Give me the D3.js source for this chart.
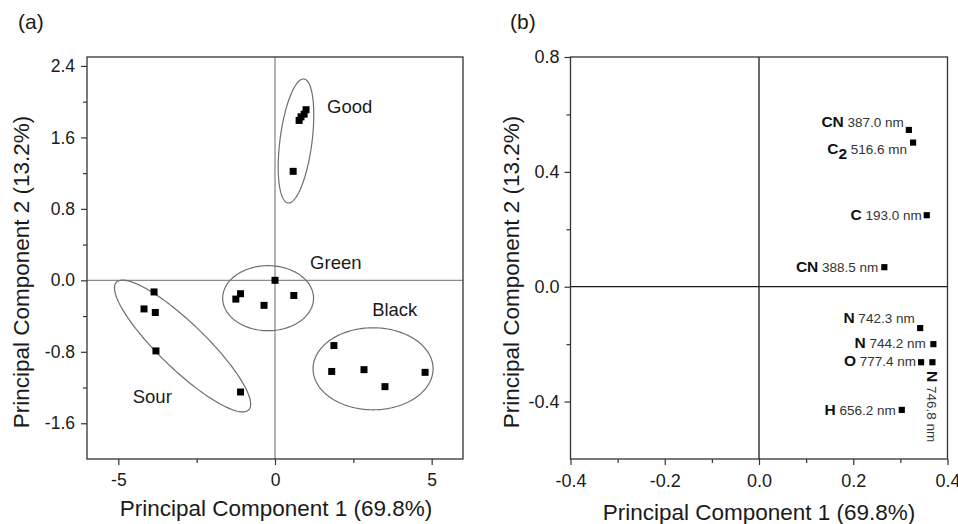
<!DOCTYPE html>
<html>
<head>
<meta charset="utf-8">
<script src="https://cdn.jsdelivr.net/npm/d3@7"></script>
<style>
  body { margin: 0; background: #fff; }
  svg { display: block; background: #fff; }
</style>
</head>
<body>
<div id="wrapper"></div>
<script>
// ---------- panel (a): PCA scores ----------
const scoreGroups = ["Good", "Green", "Sour", "Black"]
const scoreGroup = [0, 0, 0, 0, 0,  1, 1, 1, 1, 1,  2, 2, 2, 2, 2,  3, 3, 3, 3, 3]
const scorePC1 = [0.99, 0.93, 0.83, 0.77, 0.58,
                  0.00, 0.60, -0.35, -1.10, -1.25,
                  -3.86, -4.18, -3.82, -3.80, -1.10,
                  1.88, 1.81, 2.84, 3.51, 4.79]
const scorePC2 = [1.91, 1.86, 1.83, 1.79, 1.22,
                  0.00, -0.17, -0.28, -0.15, -0.21,
                  -0.13, -0.32, -0.36, -0.79, -1.25,
                  -0.73, -1.02, -1.00, -1.19, -1.03]

// confidence ellipses (data units): centre, and two semi-axis vectors
const ellipseCentre = [[0.67, 1.56], [-0.22, -0.20], [-2.95, -0.735], [3.13, -0.99]]
const ellipseAxisU  = [[0.255, 0.694], [1.45, 0], [2.113, -0.714], [1.915, 0]]
const ellipseAxisV  = [[0.507, -0.023], [0, 0.364], [0.508, 0.186], [0, 0.459]]
// where each group name sits (data units, text start / baseline)
const groupLabelAt = [[1.66, 1.87], [1.12, 0.13], [-4.54, -1.37], [3.10, -0.40]]

const scoreXTicks = [-5, 0, 5]
const scoreXMinor = [-2.5, 2.5]
const scoreYTicks = [2.4, 1.6, 0.8, 0.0, -0.8, -1.6]
const scoreYMinor = [2.0, 1.2, 0.4, -0.4, -1.2]

// ---------- panel (b): PCA loadings ----------
const loadingElement = ["CN", "C2", "C", "CN", "N", "N", "O", "N", "H"]
const loadingLine = ["387.0 nm", "516.6 mn", "193.0 nm", "388.5 nm",
                     "742.3 nm", "744.2 nm", "777.4 nm", "746.8 nm", "656.2 nm"]
const loadingPC1 = [0.318, 0.327, 0.356, 0.266, 0.342, 0.370, 0.344, 0.368, 0.303]
const loadingPC2 = [0.546, 0.502, 0.249, 0.068, -0.144, -0.200, -0.263, -0.263, -0.429]

const loadXTicks = [-0.4, -0.2, 0.0, 0.2, 0.4]
const loadXMinor = [-0.3, -0.1, 0.1, 0.3]
const loadYTicks = [0.8, 0.4, 0.0, -0.4]
const loadYMinor = [0.6, 0.2, -0.2]

const xTitle = "Principal Component 1 (69.8%)"
const yTitle = "Principal Component 2 (13.2%)"

function drawFigure() {
  const font = "'Liberation Sans', Arial, Helvetica, sans-serif"

  // plain hyphen for negatives, like the original figure
  const fmt = spec => d => d3.format(spec)(d).replace("\u2212", "-")

  const wrapper = d3.select("#wrapper")
    .append("svg")
      .attr("width", 958)
      .attr("height", 524)
      .style("font-family", font)

  // both panels share the same vertical extent
  const plotTop = 57
  const plotBottom = 459

  // axes + frame for one panel
  function drawAxes(xScale, yScale, t) {
    const g = wrapper.append("g")
    const [x0, x1] = xScale.range()

    const styleAxis = sel => {
      sel.attr("font-family", font).attr("font-size", t.fontSize)
      sel.select(".domain").remove()
      sel.selectAll("line").attr("stroke", "#333").attr("stroke-width", 1.2)
      sel.selectAll("text").attr("fill", "#1a1a1a")
    }

    g.append("g")
        .attr("transform", `translate(0,${plotBottom})`)
        .call(d3.axisBottom(xScale).tickValues(t.xMinor).tickSize(4).tickFormat(""))
        .call(styleAxis)
    g.append("g")
        .attr("transform", `translate(0,${plotBottom})`)
        .call(d3.axisBottom(xScale).tickValues(t.xMajor).tickSize(6)
          .tickPadding(9).tickFormat(t.xFormat))
        .call(styleAxis)
    g.append("g")
        .attr("transform", `translate(${x0},0)`)
        .call(d3.axisLeft(yScale).tickValues(t.yMinor).tickSize(4).tickFormat(""))
        .call(styleAxis)
    g.append("g")
        .attr("transform", `translate(${x0},0)`)
        .call(d3.axisLeft(yScale).tickValues(t.yMajor).tickSize(6)
          .tickPadding(t.yPad).tickFormat(fmt(".1f")))
        .call(styleAxis)

    g.append("rect")
        .attr("x", x0)
        .attr("y", plotTop)
        .attr("width", x1 - x0)
        .attr("height", plotBottom - plotTop)
        .attr("fill", "none")
        .attr("stroke", "#333")
        .attr("stroke-width", 1.3)
    return g
  }

  function drawTitles(cx, xBase, yX, tag, tagX) {
    wrapper.append("text")
        .attr("x", cx)
        .attr("y", xBase)
        .attr("text-anchor", "middle")
        .attr("font-size", 22.5)
        .attr("fill", "#1a1a1a")
        .text(xTitle)
    wrapper.append("text")
        .attr("transform", `translate(${yX},272) rotate(-90)`)
        .attr("text-anchor", "middle")
        .attr("font-size", 22.5)
        .attr("fill", "#1a1a1a")
        .text(yTitle)
    wrapper.append("text")
        .attr("x", tagX)
        .attr("y", 29)
        .attr("font-size", 21)
        .attr("fill", "#1a1a1a")
        .text(tag)
  }

  // ================= panel (a) =================
  const xA = d3.scaleLinear().domain([-6, 6]).range([87, 463])
  const yA = d3.scaleLinear().domain([-2.0, 2.5]).range([plotBottom, plotTop])

  // zero lines
  const zeroA = wrapper.append("g")
      .attr("stroke", "#8c8c8c")
      .attr("stroke-width", 1.3)
  zeroA.append("line")
      .attr("x1", xA(0)).attr("x2", xA(0))
      .attr("y1", plotTop).attr("y2", plotBottom)
  zeroA.append("line")
      .attr("x1", xA.range()[0]).attr("x2", xA.range()[1])
      .attr("y1", yA(0)).attr("y2", yA(0))

  drawAxes(xA, yA, {
    xMajor: scoreXTicks, xMinor: scoreXMinor,
    yMajor: scoreYTicks, yMinor: scoreYMinor,
    xFormat: fmt("d"), yPad: 6, fontSize: 17.5
  })

  // ellipses traced in data space then mapped through the scales
  const steps = d3.range(0, 2 * Math.PI + 0.001, Math.PI / 90)
  const ellipseLine = d3.line().curve(d3.curveLinearClosed)
  wrapper.append("g")
    .selectAll("path")
    .data(scoreGroups)
    .join("path")
      .attr("d", (d, i) => {
        const [cx, cy] = ellipseCentre[i]
        const [ux, uy] = ellipseAxisU[i]
        const [vx, vy] = ellipseAxisV[i]
        return ellipseLine(steps.map(t => [
          xA(cx + ux * Math.cos(t) + vx * Math.sin(t)),
          yA(cy + uy * Math.cos(t) + vy * Math.sin(t))
        ]))
      })
      .attr("fill", "none")
      .attr("stroke", "#6e6e6e")
      .attr("stroke-width", 1.2)

  wrapper.append("g")
    .selectAll("text")
    .data(scoreGroups)
    .join("text")
      .attr("x", (d, i) => xA(groupLabelAt[i][0]))
      .attr("y", (d, i) => yA(groupLabelAt[i][1]))
      .attr("font-size", 18.5)
      .attr("fill", "#1a1a1a")
      .text(d => d)

  const square = d3.symbol(d3.symbolSquare)
  wrapper.append("g")
    .selectAll("path")
    .data(scorePC1)
    .join("path")
      .attr("transform", (d, i) => `translate(${xA(d)},${yA(scorePC2[i])})`)
      .attr("d", square.size(49)())
      .attr("fill", "#000")

  drawTitles(276, 516, 29, "(a)", 18)

  // ================= panel (b) =================
  const xB = d3.scaleLinear().domain([-0.4, 0.4]).range([570.5, 947.5])
  const yB = d3.scaleLinear().domain([-0.6, 0.8]).range([plotBottom, plotTop])

  const zeroB = wrapper.append("g")
      .attr("stroke", "#1a1a1a")
      .attr("stroke-width", 1.3)
  zeroB.append("line")
      .attr("x1", xB(0)).attr("x2", xB(0))
      .attr("y1", plotTop).attr("y2", plotBottom)
  zeroB.append("line")
      .attr("x1", xB.range()[0]).attr("x2", xB.range()[1])
      .attr("y1", yB(0)).attr("y2", yB(0))

  drawAxes(xB, yB, {
    xMajor: loadXTicks, xMinor: loadXMinor,
    yMajor: loadYTicks, yMinor: loadYMinor,
    xFormat: fmt(".1f"), yPad: 5, fontSize: 18
  })

  wrapper.append("g")
    .selectAll("path")
    .data(loadingPC1)
    .join("path")
      .attr("transform", (d, i) => `translate(${xB(d)},${yB(loadingPC2[i])})`)
      .attr("d", square.size(38)())
      .attr("fill", "#000")

  // label placement relative to its point: [dx, dy, rotated]
  const labelOffset = [[-5, -3], [-6, 11], [-5, 4.5], [-6, 4.5], [-5.5, -5.5],
                       [-7.5, 4], [-5, 4], [-5, 8.7, true], [-6, 5.5]]

  const labels = wrapper.append("g")
    .selectAll("text")
    .data(loadingElement)
    .join("text")
      .attr("transform", (d, i) => {
        const [dx, dy, rot] = labelOffset[i]
        const px = xB(loadingPC1[i]) + dx
        const py = yB(loadingPC2[i]) + dy
        return rot ? `translate(${px},${py}) rotate(90)` : `translate(${px},${py})`
      })
      .attr("text-anchor", (d, i) => labelOffset[i][2] ? "start" : "end")

  labels.each(function (d, i) {
    const t = d3.select(this)
    const m = d.match(/^([A-Z]+)(\d*)$/)
    t.append("tspan")
        .attr("font-weight", "bold")
        .attr("font-size", 15.5)
        .attr("fill", "#111")
        .text(m[1])
    if (m[2]) {
      t.append("tspan")
          .attr("font-weight", "bold")
          .attr("font-size", 15.5)
          .attr("fill", "#111")
          .attr("dy", 5)
          .text(m[2])
    }
    t.append("tspan")
        .attr("font-size", 13.5)
        .attr("fill", "#333")
        .attr("dy", m[2] ? -5 : 0)
        .text(" " + loadingLine[i])
  })

  drawTitles(759, 520, 519, "(b)", 510)
}

drawFigure()
</script>
</body>
</html>
